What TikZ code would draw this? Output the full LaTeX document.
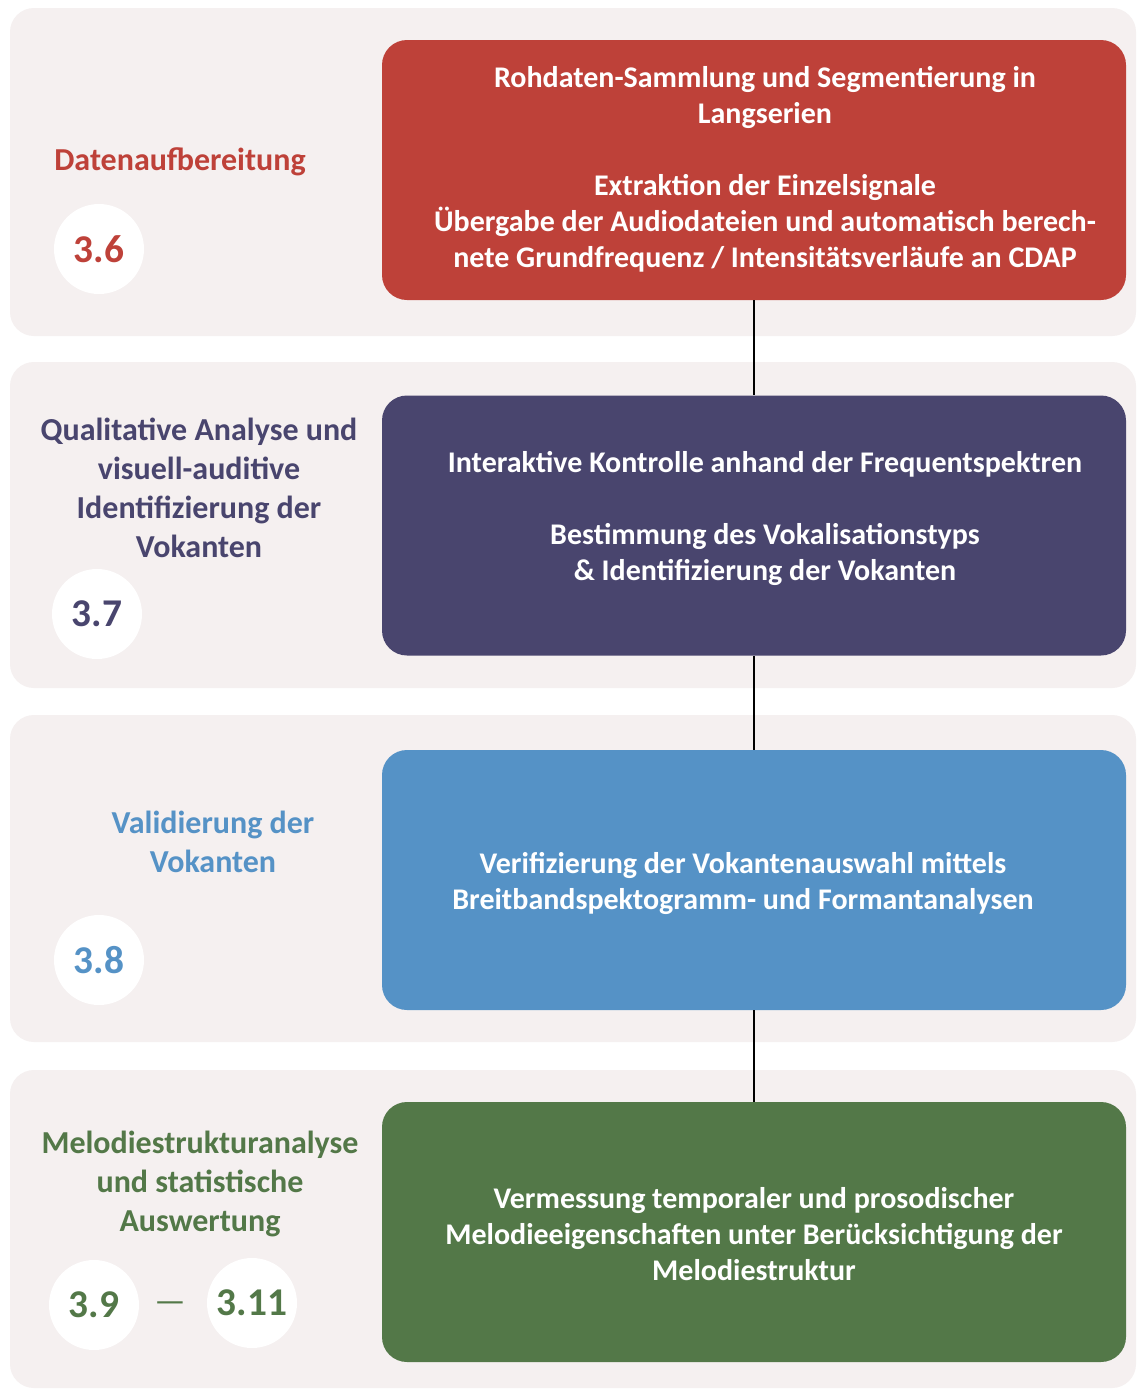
\documentclass[tikz,border=0pt]{standalone}
\usepackage{fontspec}
\setmainfont{Carlito}
\definecolor{cred}{HTML}{BE4139}
\definecolor{cpurple}{HTML}{49456E}
\definecolor{cblue}{HTML}{5592C6}
\definecolor{cgreen}{HTML}{537848}
\definecolor{cband}{HTML}{F5F0F0}
\begin{document}
\begin{tikzpicture}[x=0.75pt,y=-0.75pt,
  band/.style={fill=cband,rounded corners=18pt},
  stepbox/.style={rounded corners=18.75pt,minimum width=558pt,minimum height=195pt,inner sep=0pt},
  boxtext/.style={text=white,align=center,font=\fontsize{22.5}{27}\selectfont\bfseries},
  lefttext/.style={align=center,font=\fontsize{24}{29.25}\selectfont\bfseries},
  numcirc/.style={circle,fill=white,minimum size=67.5pt,inner sep=0pt,font=\fontsize{29.5}{32}\selectfont\bfseries},
  conn/.style={draw=black,line width=1.5pt}]
\useasboundingbox (0,0) rectangle (1138,1389);
\fill[white] (0,0) rectangle (1138,1389);
% bands
\fill[band] (10,8) rectangle (1136,336);
\fill[band] (10,362) rectangle (1136,688);
\fill[band] (10,715) rectangle (1136,1042);
\fill[band] (10,1070) rectangle (1136,1388);
% boxes
\node[stepbox,fill=cred] (b1) at (754,170) {};
\node[stepbox,fill=cpurple] (b2) at (754,525.5) {};
\node[stepbox,fill=cblue] (b3) at (754,880) {};
\node[stepbox,fill=cgreen] (b4) at (754,1232) {};
\draw[conn] (b1) -- (b2);
\draw[conn] (b2) -- (b3);
\draw[conn] (b3) -- (b4);
% box texts
\node[boxtext] (t1) at (765,169) {Rohdaten-Sammlung und Segmentierung in\\Langserien\\[27pt]Extraktion der Einzelsignale\\Übergabe der Audiodateien und automatisch berech-\\nete Grundfrequenz / Intensitätsverläufe an CDAP};
\node[boxtext] (t2) at (765,518) {Interaktive Kontrolle anhand der Frequentspektren\\[27pt]Bestimmung des Vokalisationstyps\\\& Identifizierung der Vokanten};
\node[boxtext] (t3) at (743,883) {Verifizierung der Vokantenauswahl mittels\\Breitbandspektogramm- und Formantanalysen};
\node[boxtext] (t4) at (754,1234) {Vermessung temporaler und prosodischer\\Melodieeigenschaften unter Berücksichtigung der\\Melodiestruktur};
% left labels
\node[lefttext,text=cred] (l1) at (180,162) {Datenaufbereitung};
\node[lefttext,text=cpurple] (l2) at (199,488) {Qualitative Analyse und\\visuell-auditive\\Identifizierung der\\Vokanten};
\node[lefttext,text=cblue] (l3) at (213,842) {Validierung der\\Vokanten};
\node[lefttext,text=cgreen] (l4) at (200,1184) {Melodiestrukturanalyse\\und statistische\\Auswertung};
% circles
\node[numcirc,text=cred] (n1) at (99,249) {3.6};
\node[numcirc,text=cpurple] (n2) at (97,614) {3.7};
\node[numcirc,text=cblue] (n3) at (99,960) {3.8};
\node[numcirc,text=cgreen] (n4) at (94,1305) {3.9};
\node[numcirc,text=cgreen] (n5) at (252,1303) {3.11};
\node[text=cgreen,font=\fontsize{26}{30}\selectfont] (dash) at (170,1307) {—};
\end{tikzpicture}
\end{document}
